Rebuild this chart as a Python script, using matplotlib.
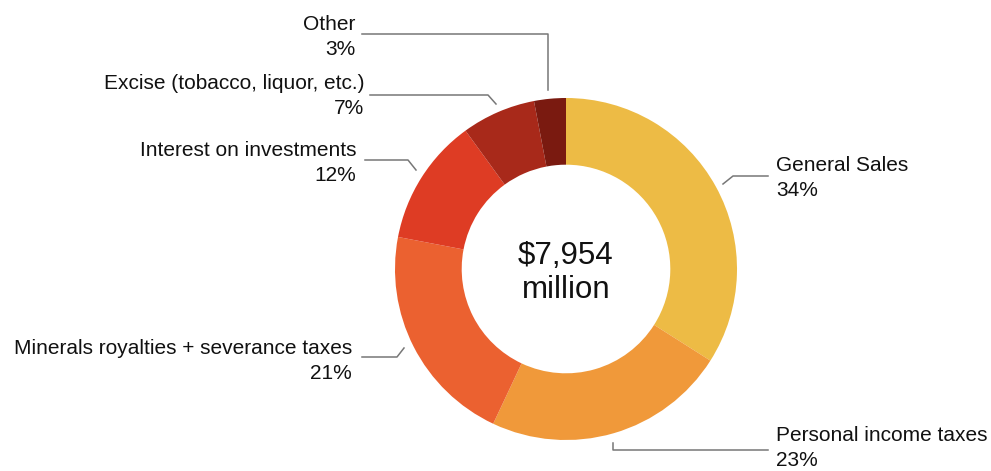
import matplotlib
matplotlib.use("Agg")
import numpy as np
import matplotlib.pyplot as plt

plt.rcParams['font.family'] = ['Liberation Sans', 'DejaVu Sans']

# revenue sources, clockwise from top
sources = ["General Sales", "Personal income taxes", "Minerals royalties + severance taxes",
           "Interest on investments", "Excise (tobacco, liquor, etc.)", "Other"]
shares = [34, 23, 21, 12, 7, 3]
colors = ["#EDBB45", "#F0993A", "#EB6130", "#DE3C24", "#A8291A", "#7A1A10"]
total_label = "$7,954\nmillion"

W, H = 991, 471
fig = plt.figure(figsize=(W / 100, H / 100), dpi=100)
ax = fig.add_axes([0, 0, 1, 1])

cx, cy, R = 566, 269, 171
# y axis is flipped below, so counterclock in data = clockwise on screen
wedges, _ = ax.pie(shares, colors=colors, startangle=-90, counterclock=True,
                   center=(cx, cy), radius=R, frame=True,
                   wedgeprops=dict(width=R * 0.39, linewidth=0))
ax.set_xlim(0, W)
ax.set_ylim(H, 0)
ax.set_aspect("equal")
ax.axis("off")

ax.text(cx, cy + 4, total_label, ha="center", va="center", fontsize=22.5,
        linespacing=1.2, color="#111111")

line_kw = dict(color="#777777", lw=1.1)
fs = 15

# leader lines (x list, y list) and label anchors
leaders = {
    "Other": ([362, 548, 548], [34, 34, 90]),
    "Excise (tobacco, liquor, etc.)": ([370, 488, 496], [95, 95, 104]),
    "Interest on investments": ([365, 408, 416], [160, 160, 170]),
    "General Sales": ([723, 733, 768], [184, 176, 176]),
    "Minerals royalties + severance taxes": ([362, 397, 404], [357, 357, 348]),
    "Personal income taxes": ([613, 613, 768], [443, 450, 450]),
}
anchors = {
    "Other": (355, 37, "right"),
    "Excise (tobacco, liquor, etc.)": (364, 96, "right"),
    "Interest on investments": (356, 163, "right"),
    "General Sales": (776, 178, "left"),
    "Minerals royalties + severance taxes": (352, 361, "right"),
    "Personal income taxes": (776, 448, "left"),
}

for name, pct in zip(sources, shares):
    xs, ys = leaders[name]
    ax.plot(xs, ys, **line_kw)
    x, y, ha = anchors[name]
    ax.text(x, y, f"{name}\n{pct}%", ha=ha, va="center", fontsize=fs,
            multialignment=ha, linespacing=1.4, color="#111111")

fig.savefig("out.png", dpi=100, facecolor="white")
